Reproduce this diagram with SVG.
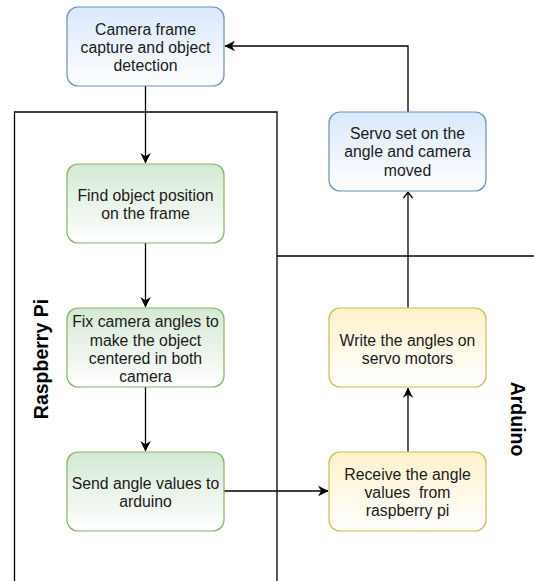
<svg xmlns="http://www.w3.org/2000/svg" width="534" height="581" viewBox="0 0 534 581">
<style>
.node{stroke-width:1.2}
.t{font-family:"Liberation Sans",Arial,sans-serif;font-size:15.8px;fill:#1a1a1a;text-anchor:middle;white-space:pre}
.lbl{font-family:"Liberation Sans",Arial,sans-serif;font-size:19.5px;font-weight:bold;fill:#000;text-anchor:middle}
.ln{fill:none;stroke:#000;stroke-width:1.3}
.frame{fill:none;stroke:#000;stroke-width:1.3}
</style>
<defs>
<linearGradient id="gb" x1="0" y1="0" x2="0" y2="1"><stop offset="0" stop-color="#dae8fc"/><stop offset="1" stop-color="#ffffff"/></linearGradient>
<linearGradient id="gg" x1="0" y1="0" x2="0" y2="1"><stop offset="0" stop-color="#d5e8d4"/><stop offset="1" stop-color="#ffffff"/></linearGradient>
<linearGradient id="gy" x1="0" y1="0" x2="0" y2="1"><stop offset="0" stop-color="#fff2cc"/><stop offset="1" stop-color="#ffffff"/></linearGradient>
<marker id="af" viewBox="0 0 10 10" refX="9.5" refY="5" markerWidth="10.5" markerHeight="10.5" markerUnits="userSpaceOnUse" orient="auto"><path d="M0,0 L10,5 L0,10 L3,5 Z" fill="#000"/></marker>
<marker id="ao" viewBox="0 0 7 10" refX="6.5" refY="5" markerWidth="7" markerHeight="10" markerUnits="userSpaceOnUse" orient="auto"><path d="M0.5,0.5 L6.5,5 L0.5,9.5" fill="none" stroke="#000" stroke-width="1.3"/></marker>
</defs>
<g id="frames">
<path class="frame" d="M14.5,581 V112 H277 V581"/>
<path class="frame" d="M277,256 H534"/>
<text class="lbl" transform="translate(48,359) rotate(-90)">Raspberry Pi</text>
<text class="lbl" transform="translate(511,419) rotate(90)">Arduino</text>
</g>
<g id="connectors">
<path class="ln" d="M145.5,86 V163" marker-end="url(#af)"/>
<path class="ln" d="M145.5,243 V307" marker-end="url(#af)"/>
<path class="ln" d="M145.5,387 V451" marker-end="url(#af)"/>
<path class="ln" d="M224,491 H328" marker-end="url(#af)"/>
<path class="ln" d="M408,452 V388" marker-end="url(#af)"/>
<path class="ln" d="M408,308 V192" marker-end="url(#ao)"/>
<path class="ln" d="M408,112 V46 H225" marker-end="url(#af)"/>
</g>
<g id="camera">
<rect class="node" x="67" y="7" width="157" height="79" rx="11" fill="url(#gb)" stroke="#6c8ebf"/>
<text class="t" x="145.5" y="34.5">Camera frame</text>
<text class="t" x="145.5" y="52.5">capture and object</text>
<text class="t" x="145.5" y="70.5">detection</text>
</g>
<g id="find">
<rect class="node" x="67" y="164" width="157" height="79" rx="11" fill="url(#gg)" stroke="#82b366"/>
<text class="t" x="145.5" y="200.5">Find object position</text>
<text class="t" x="145.5" y="218.5">on the frame</text>
</g>
<g id="fix">
<rect class="node" x="67" y="308" width="157" height="79" rx="11" fill="url(#gg)" stroke="#82b366"/>
<text class="t" x="145.5" y="327">Fix camera angles to</text>
<text class="t" x="145.5" y="345.5">make the object</text>
<text class="t" x="145.5" y="363.5">centered in both</text>
<text class="t" x="145.5" y="382">camera</text>
</g>
<g id="send">
<rect class="node" x="67" y="452" width="157" height="79" rx="11" fill="url(#gg)" stroke="#82b366"/>
<text class="t" x="145.5" y="488.5">Send angle values to</text>
<text class="t" x="145.5" y="506.5">arduino</text>
</g>
<g id="receive">
<rect class="node" x="329" y="452" width="157" height="79" rx="11" fill="url(#gy)" stroke="#d6b656"/>
<text class="t" x="407.5" y="479.5">Receive the angle</text>
<text class="t" x="407.5" y="497.5">values  from</text>
<text class="t" x="407.5" y="516">raspberry pi</text>
</g>
<g id="write">
<rect class="node" x="329" y="308" width="157" height="79" rx="11" fill="url(#gy)" stroke="#d6b656"/>
<text class="t" x="407.5" y="345.5">Write the angles on</text>
<text class="t" x="407.5" y="363.5">servo motors</text>
</g>
<g id="servo">
<rect class="node" x="329" y="112" width="157" height="79" rx="11" fill="url(#gb)" stroke="#6c8ebf"/>
<text class="t" x="407.5" y="138.5">Servo set on the</text>
<text class="t" x="407.5" y="157">angle and camera</text>
<text class="t" x="407.5" y="175.5">moved</text>
</g>
</svg>
